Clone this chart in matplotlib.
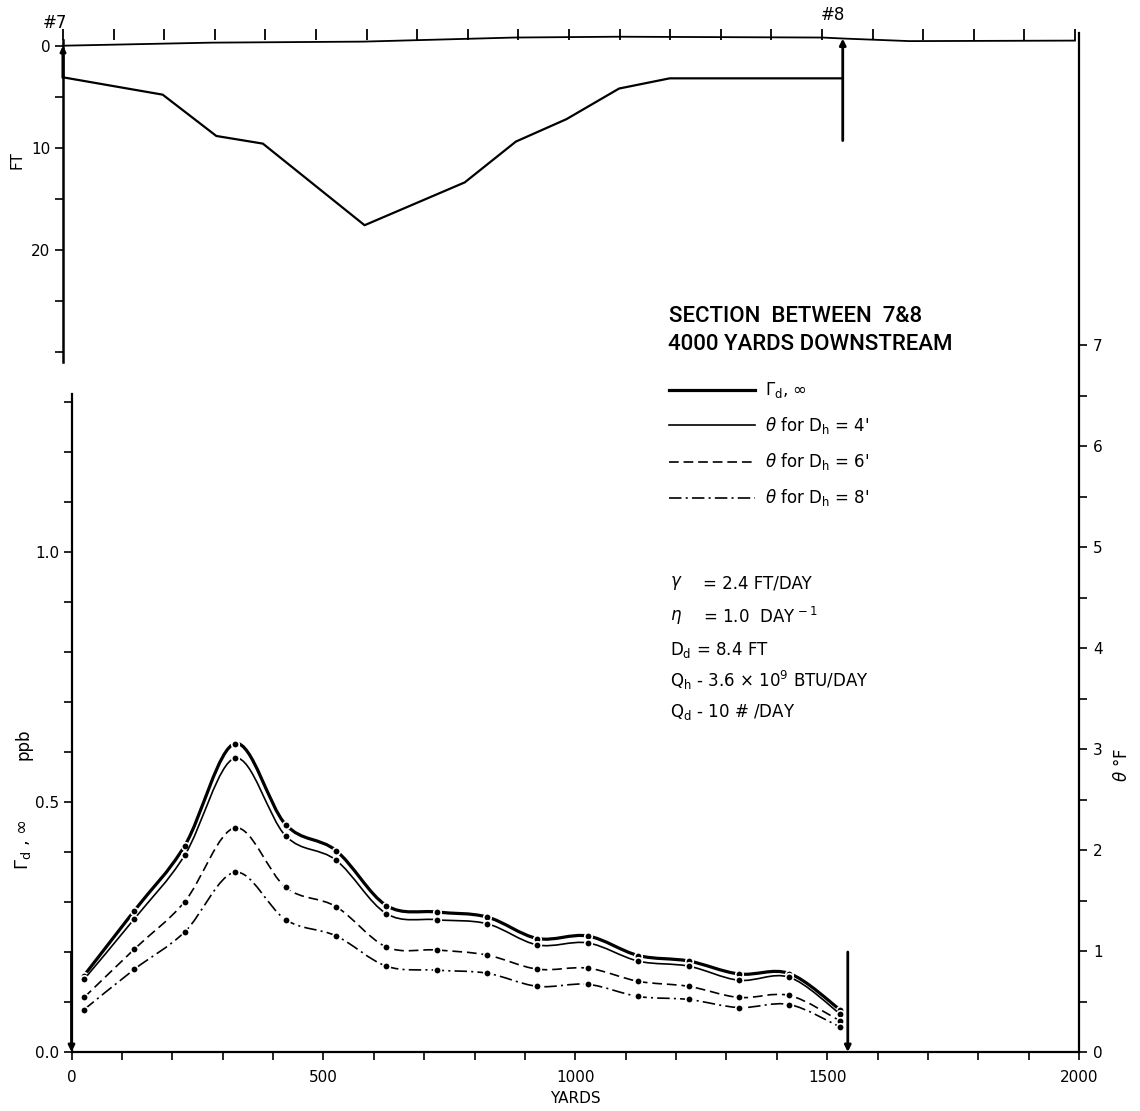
import numpy as np
import matplotlib
matplotlib.use("Agg")
import matplotlib.pyplot as plt
from matplotlib.path import Path
from matplotlib.patches import PathPatch
from matplotlib.lines import Line2D

plt.rcParams['font.family'] = ['DejaVu Sans']
plt.rcParams['mathtext.fontset'] = 'dejavusans'
plt.rcParams['lines.scale_dashes'] = False

# ---------------- data ----------------
yards = [25, 125, 225, 325, 425, 525, 625, 725, 825, 925, 1025, 1125, 1225, 1325, 1425, 1525]
gamma_ppb = [0.153, 0.283, 0.413, 0.617, 0.455, 0.403, 0.293, 0.280, 0.270, 0.227,
             0.232, 0.193, 0.182, 0.156, 0.157, 0.085]
theta_dh4 = [0.72, 1.32, 1.95, 2.91, 2.14, 1.90, 1.37, 1.31, 1.27, 1.06,
             1.08, 0.90, 0.85, 0.71, 0.74, 0.38]
theta_dh6 = [0.54, 1.02, 1.49, 2.22, 1.63, 1.44, 1.04, 1.01, 0.96, 0.82,
             0.83, 0.70, 0.65, 0.54, 0.56, 0.31]
theta_dh8 = [0.42, 0.82, 1.19, 1.78, 1.31, 1.15, 0.85, 0.81, 0.78, 0.65,
             0.67, 0.55, 0.52, 0.44, 0.47, 0.25]

depth_yards = [0, 197, 303, 395, 596, 794, 895, 995, 1099, 1199, 1541]
depth_ft = [3.1, 4.8, 8.85, 9.6, 17.6, 13.4, 9.4, 7.2, 4.2, 3.2, 3.2]
surface_yards = [0, 294, 593, 892, 1096, 1501, 1543, 1673, 2000]
surface_ft = [0.0, -0.3, -0.4, -0.8, -0.88, -0.8, -0.7, -0.45, -0.5]

station_yards = [0, 1541]
station_labels = ['#7', '#8']

x_major = [0, 500, 1000, 1500, 2000]
ppb_major = [0.0, 0.5, 1.0]
degf_major = [0, 1, 2, 3, 4, 5, 6, 7]
ft_major = [0, 10, 20]

W, H = 1140, 1111
fig = plt.figure(figsize=(W / 100, H / 100), dpi=100)


def fx(px):
    return px / W


def fy(py):
    return 1 - py / H


def smooth_path(x, y):
    P = np.column_stack([x, y]).astype(float)
    Pe = np.vstack([P[0], P, P[-1]])
    verts = [P[0]]
    codes = [Path.MOVETO]
    for i in range(len(P) - 1):
        p0, p1, p2, p3 = Pe[i], Pe[i + 1], Pe[i + 2], Pe[i + 3]
        verts += [p1 + (p2 - p0) / 6.0, p2 - (p3 - p1) / 6.0, p2]
        codes += [Path.CURVE4] * 3
    return Path(verts, codes)


# ---------------- lower axes ----------------
L_left, L_right, L_top, L_bot = 71.5, 1079, 33, 1052
ax = fig.add_axes([fx(L_left), fy(L_bot), fx(L_right - L_left), (L_bot - L_top) / H])
ax.patch.set_alpha(0)
ax.set_xlim(0, 2000)
ax.set_ylim(0, (L_bot - L_top) / 500.0)
ax2 = ax.twinx()
ax2.set_ylim(0, (L_bot - L_top) / 101.0)

for s in ['top', 'right']:
    ax.spines[s].set_visible(False)
for s in ['top', 'left', 'bottom']:
    ax2.spines[s].set_visible(False)
ax.spines['left'].set_bounds(0, 1.316)
for sp in [ax.spines['left'], ax.spines['bottom'], ax2.spines['right']]:
    sp.set_linewidth(1.6)

ax.set_xticks(np.arange(0, 2001, 100), minor=True)
ax.set_xticks(x_major)
ax.set_xticklabels([str(v) for v in x_major])
ax.set_yticks(np.arange(0, 1.31, 0.1), minor=True)
ax.set_yticks(ppb_major)
ax.set_yticklabels(['%.1f' % v for v in ppb_major])
ax2.set_yticks(np.arange(0, 7.01, 0.5), minor=True)
ax2.set_yticks(degf_major)
ax2.set_yticklabels([str(v) for v in degf_major])
for a in (ax, ax2):
    a.tick_params(which='both', direction='out', length=6, width=1.2, labelsize=11)
ax.tick_params(axis='x', which='both', pad=7)
ax.tick_params(axis='y', which='both', pad=3)
ax2.tick_params(axis='y', which='both', pad=4)

ax.set_xlabel('YARDS', fontsize=11, labelpad=4)

mk = dict(marker='o', ms=5.4, mfc='black', mec='white', mew=1.2, ls='none', zorder=5)

ax.add_patch(PathPatch(smooth_path(yards, gamma_ppb), fill=False, lw=2.3, ec='black'))
ax.plot(yards, gamma_ppb, **mk)
ax2.add_patch(PathPatch(smooth_path(yards, theta_dh4), fill=False, lw=1.2, ec='black'))
ax2.plot(yards, theta_dh4, **mk)
ax2.add_patch(PathPatch(smooth_path(yards, theta_dh6), fill=False, lw=1.2, ec='black',
                        linestyle=(0, (7, 3.5))))
ax2.plot(yards, theta_dh6, **mk)
ax2.add_patch(PathPatch(smooth_path(yards, theta_dh8), fill=False, lw=1.2, ec='black',
                        linestyle=(0, (9, 3, 1.5, 3))))
ax2.plot(yards, theta_dh8, **mk)

# station arrows (lower)
for xs in station_yards:
    ax.annotate('', xy=(xs, 0), xytext=(xs, 0.2),
                arrowprops=dict(arrowstyle='-|>', lw=2.0, color='black',
                                mutation_scale=9, shrinkA=0, shrinkB=0),
                annotation_clip=False)

# ---------------- upper axes ----------------
U_left, U_right = 63, 1075
ft_top, ft_bot = -0.55, 30.5
U_top = 45.7 + ft_top * 10.2
U_bot = 45.7 + ft_bot * 10.2
axu = fig.add_axes([fx(U_left), fy(U_bot), fx(U_right - U_left), (U_bot - U_top) / H])
axu.patch.set_alpha(0)
axu.set_xlim(0, 2000)
axu.set_ylim(ft_bot, ft_top)
for s in ['top', 'right', 'bottom']:
    axu.spines[s].set_visible(False)
axu.spines['left'].set_linewidth(1.8)
axu.spines['left'].set_bounds(ft_top, 31.0)
axu.xaxis.set_ticks_position('top')
axu.set_xticks(np.arange(0, 2001, 100))
axu.set_xticklabels([])
axu.set_yticks(np.arange(0, 30.1, 5), minor=True)
axu.set_yticks(ft_major)
axu.set_yticklabels([str(v) for v in ft_major])
axu.tick_params(which='both', direction='out', length=6, width=1.2, labelsize=11, pad=3)
axu.tick_params(axis='x', length=8, width=1.3)

axu.plot(surface_yards, surface_ft, color='black', lw=1.3, clip_on=False)
axu.plot(depth_yards, depth_ft, color='black', lw=1.6, clip_on=False)

axu.annotate('', xy=(station_yards[1], -0.7), xytext=(station_yards[1], 9.3),
             arrowprops=dict(arrowstyle='-|>', lw=2.0, color='black',
                             mutation_scale=9, shrinkA=0, shrinkB=0),
             annotation_clip=False)
axu.annotate('', xy=(station_yards[0], 0), xytext=(station_yards[0], 3.1),
             arrowprops=dict(arrowstyle='-|>', lw=2.2, color='black',
                             mutation_scale=7, shrinkA=0, shrinkB=0),
             annotation_clip=False)

fig.text(fx(55), fy(23), station_labels[0], fontsize=12, ha='center', va='center')
fig.text(fx(833), fy(15), station_labels[1], fontsize=12, ha='center', va='center')

# axis titles
fig.text(fx(17), fy(160), 'FT', fontsize=11, rotation=90, ha='center', va='center')
fig.text(fx(23), fy(744), 'ppb', fontsize=12, rotation=90, ha='center', va='center')
fig.text(fx(23), fy(845), r'$\Gamma_{\rm d}$ , $\infty$', fontsize=13, rotation=90,
         ha='center', va='center')
fig.text(fx(1122), fy(765), r'$\theta$ °F', fontsize=12, rotation=90,
         ha='center', va='center')

# title block
tfam = ['Roboto', 'DejaVu Sans']
fig.text(fx(669), fy(317), 'SECTION  BETWEEN  7&8', fontsize=16, family=tfam,
         weight='medium', ha='left', va='center')
fig.text(fx(668), fy(345), '4000 YARDS DOWNSTREAM', fontsize=16, family=tfam,
         weight='medium', ha='left', va='center')

# legend (drawn in figure coordinates)
leg_rows = [
    (390, dict(lw=2.3, ls='-'), r'$\Gamma_{\rm d}$, $\infty$'),
    (425, dict(lw=1.2, ls='-'), r"$\theta$ for D$_{\rm h}$ = 4'"),
    (462, dict(lw=1.2, ls=(0, (7, 3.5))), r"$\theta$ for D$_{\rm h}$ = 6'"),
    (498, dict(lw=1.2, ls=(0, (9, 3, 1.5, 3))), r"$\theta$ for D$_{\rm h}$ = 8'"),
]
for yy, st, lab in leg_rows:
    fig.add_artist(Line2D([fx(669), fx(755)], [fy(yy), fy(yy)], color='black',
                          transform=fig.transFigure, **st))
    fig.text(fx(765), fy(yy), lab, fontsize=12, ha='left', va='center')

# parameters
fig.text(fx(670), fy(583), r'$\gamma$', fontsize=12, ha='left', va='center')
fig.text(fx(703), fy(583), '= 2.4 FT/DAY', fontsize=12, ha='left', va='center')
fig.text(fx(670), fy(617), r'$\eta$', fontsize=12, ha='left', va='center')
fig.text(fx(703), fy(617), r'= 1.0  DAY$^{\,-1}$', fontsize=12, ha='left', va='center')
fig.text(fx(670), fy(650), r'D$_{\rm d}$ = 8.4 FT', fontsize=12, ha='left', va='center')
fig.text(fx(670), fy(680), r'Q$_{\rm h}$ - 3.6 × 10$^{9}$ BTU/DAY', fontsize=12,
         ha='left', va='center')
fig.text(fx(670), fy(712), r'Q$_{\rm d}$ - 10 # /DAY', fontsize=12, ha='left', va='center')

fig.savefig('out.png', dpi=100)
